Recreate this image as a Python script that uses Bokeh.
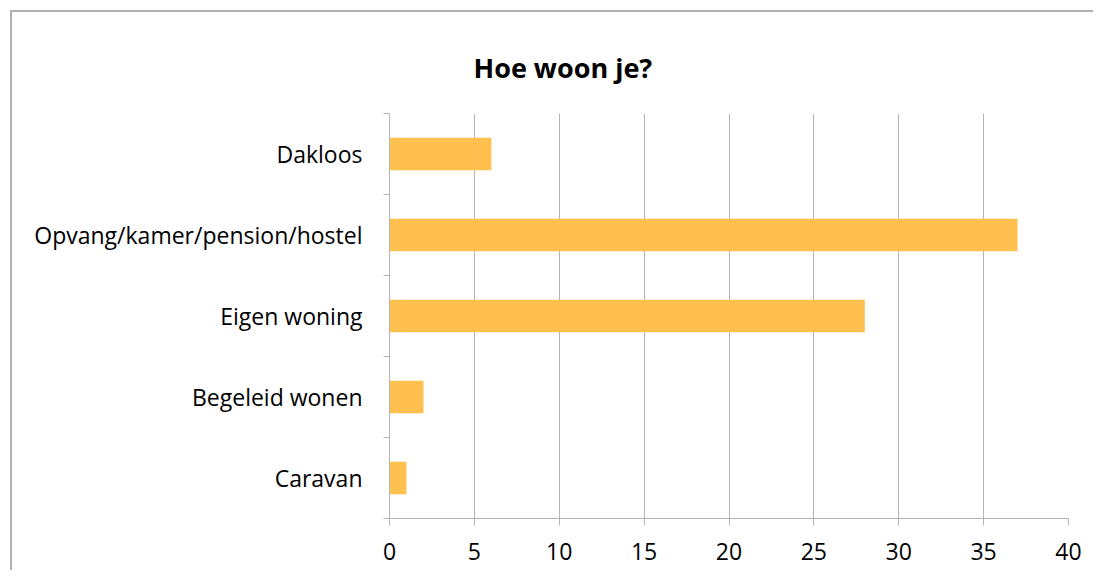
from bokeh.plotting import figure
from bokeh.models import FixedTicker, Range1d, InlineStyleSheet
from bokeh.embed import file_html
from bokeh.resources import INLINE

categories = ["Caravan", "Begeleid wonen", "Eigen woning", "Opvang/kamer/pension/hostel", "Dakloos"]
counts = [1, 2, 28, 37, 6]
x_ticks = [0, 5, 10, 15, 20, 25, 30, 35, 40]
title_text = "Hoe woon je?"

W, H = 1093, 570
FONT = "Open Sans"
GRID = "#B4B4B4"

pos = list(range(len(categories)))
bounds = [i - 0.5 for i in range(len(categories) + 1)]

p = figure(width=W, height=H, output_backend="svg", toolbar_location=None,
           x_range=Range1d(0, 40), y_range=Range1d(-0.5, len(categories) - 0.5),
           min_border_left=389, min_border_right=W - 1068, min_border_top=113, min_border_bottom=H - 518,
           title=title_text)
p.outline_line_color = None
p.background_fill_color = "white"
p.border_fill_color = "white"

p.hbar(y=pos, right=counts, left=0, height=0.4, color="#FFC04F", line_color=None)

# title
p.title.text_font = FONT
p.title.text_font_style = "bold"
p.title.text_font_size = "27px"
p.title.text_color = "black"
p.title.align = "left"
p.title.offset = 84
p.title.standoff = 56

# x axis
xa = p.xaxis[0]
xa.ticker = FixedTicker(ticks=x_ticks)
xa.axis_line_color = GRID
xa.major_tick_line_color = GRID
xa.major_tick_out = 7
xa.major_tick_in = 0
xa.minor_tick_line_color = None
xa.major_label_text_font = FONT
xa.major_label_text_font_size = "23px"
xa.major_label_text_color = "black"
xa.major_label_standoff = 17

# y axis
ya = p.yaxis[0]
ya.ticker = FixedTicker(ticks=pos, minor_ticks=bounds)
ya.major_label_overrides = {i: c for i, c in zip(pos, categories)}
ya.axis_line_color = GRID
ya.major_tick_line_color = None
ya.major_tick_out = 0
ya.major_tick_in = 0
ya.minor_tick_line_color = GRID
ya.minor_tick_out = 6
ya.minor_tick_in = 0
ya.major_label_text_font = FONT
ya.major_label_text_font_size = "23px"
ya.major_label_text_color = "black"
ya.major_label_standoff = 21

p.xgrid.ticker = FixedTicker(ticks=x_ticks)
p.xgrid.grid_line_color = GRID
p.ygrid.grid_line_color = None

# chart-area border: left and top lines painted as gradients on one overlay box
p.css_classes = ["chartbox"]
p.stylesheets = [InlineStyleSheet(css="""
:host(.chartbox)::after {
  content: "";
  position: absolute;
  left: 10px; top: 10px;
  width: 1083px; height: 560px;
  background:
    linear-gradient(#B0B0B0, #B0B0B0) left top / 2px 100% no-repeat,
    linear-gradient(#B0B0B0, #B0B0B0) left top / 100% 2px no-repeat;
  pointer-events: none;
}
""")]

open("out.html", "w").write(file_html(p, INLINE))
